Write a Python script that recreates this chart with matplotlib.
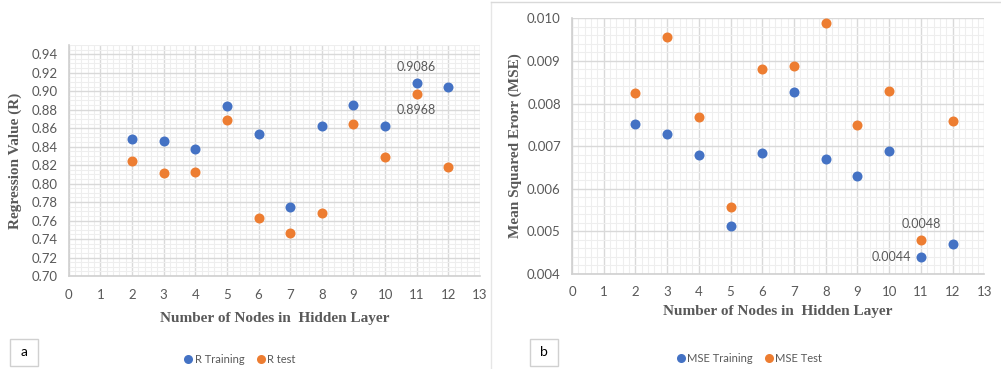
import matplotlib
matplotlib.use("Agg")
import matplotlib.pyplot as plt
from matplotlib.ticker import MultipleLocator, FormatStrFormatter
from matplotlib.patches import Rectangle
from matplotlib.lines import Line2D

# ---- data ----
nodes = [2, 3, 4, 5, 6, 7, 8, 9, 10, 11, 12]
r_training = [0.848, 0.846, 0.837, 0.884, 0.854, 0.775, 0.862, 0.885, 0.862, 0.9086, 0.905]
r_test = [0.825, 0.811, 0.813, 0.869, 0.763, 0.747, 0.768, 0.864, 0.829, 0.8968, 0.818]
mse_training = [0.00752, 0.00729, 0.00679, 0.00512, 0.00683, 0.00827, 0.00670, 0.00629, 0.00689, 0.0044, 0.00470]
mse_test = [0.00825, 0.00956, 0.00769, 0.00558, 0.00880, 0.00889, 0.00990, 0.00749, 0.00830, 0.0048, 0.00760]

BLUE = "#4472C4"
ORANGE = "#ED7D31"
GREY_TXT = "#595959"
TICK_FONT = "Lato"
LABEL_FONT = "Liberation Serif"

fig = plt.figure(figsize=(10.01, 3.69), dpi=100)

def style_axes(ax, xmax, ymin, ymax, ymaj, ymin_step, yfmt):
    ax.set_xlim(0, xmax)
    ax.set_ylim(ymin, ymax)
    ax.xaxis.set_major_locator(MultipleLocator(1))
    ax.xaxis.set_minor_locator(MultipleLocator(0.2))
    ax.yaxis.set_major_locator(MultipleLocator(ymaj))
    ax.yaxis.set_minor_locator(MultipleLocator(ymin_step))
    ax.yaxis.set_major_formatter(FormatStrFormatter(yfmt))
    ax.grid(which="major", color="#D9D9D9", linewidth=1.0, zorder=0)
    ax.grid(which="minor", color="#EEEEEE", linewidth=0.8, zorder=0)
    ax.set_axisbelow(True)
    for s in ["top", "right"]:
        ax.spines[s].set_visible(False)
    for s in ["left", "bottom"]:
        ax.spines[s].set_color("#D0D0D0")
        ax.spines[s].set_linewidth(1.2)
    ax.tick_params(which="both", length=0, colors=GREY_TXT, labelsize=9.5)
    ax.tick_params(axis="x", pad=9)
    ax.tick_params(axis="y", pad=8)
    for lab in ax.get_xticklabels() + ax.get_yticklabels():
        lab.set_fontfamily(TICK_FONT)

# ---- left chart ----
ax1 = fig.add_axes([0.0686, 0.252, 0.4109, 0.626])
ax1.scatter(nodes, r_training, s=52, color=BLUE, zorder=3, linewidths=0)
ax1.scatter(nodes, r_test, s=52, color=ORANGE, zorder=3, linewidths=0)
style_axes(ax1, 13, 0.70, 0.95, 0.02, 0.005, "%.2f")
ax1.set_yticks([0.70 + 0.02 * i for i in range(13)])
for lab in ax1.get_yticklabels():
    lab.set_fontfamily(TICK_FONT)
ax1.set_xlabel("Number of Nodes in  Hidden Layer", fontfamily=LABEL_FONT, fontweight="bold",
               fontsize=11, color=GREY_TXT, labelpad=8)
ax1.set_ylabel("Regression Value (R)", fontfamily=LABEL_FONT, fontweight="bold",
               fontsize=11, color=GREY_TXT, labelpad=7)
ax1.annotate(f"{r_training[9]:.4f}", (nodes[9], r_training[9]), xytext=(0, 12),
             textcoords="offset points", ha="center", va="center", fontsize=9,
             color=GREY_TXT, fontfamily=TICK_FONT)
ax1.annotate(f"{r_test[9]:.4f}", (nodes[9], r_test[9]), xytext=(0, -11.5),
             textcoords="offset points", ha="center", va="center", fontsize=9,
             color=GREY_TXT, fontfamily=TICK_FONT)

# ---- right chart ----
ax2 = fig.add_axes([0.5714, 0.2575, 0.4119, 0.693])
ax2.scatter(nodes, mse_training, s=52, color=BLUE, zorder=3, linewidths=0)
ax2.scatter(nodes, mse_test, s=52, color=ORANGE, zorder=3, linewidths=0)
style_axes(ax2, 13, 0.004, 0.010, 0.001, 0.0002, "%.3f")
ax2.set_xlabel("Number of Nodes in  Hidden Layer", fontfamily=LABEL_FONT, fontweight="bold",
               fontsize=11, color=GREY_TXT, labelpad=5)
ax2.set_ylabel("Mean Squared Erorr (MSE)", fontfamily=LABEL_FONT, fontweight="bold",
               fontsize=11, color=GREY_TXT, labelpad=4)
ax2.annotate(f"{mse_test[9]:.4f}", (nodes[9], mse_test[9]), xytext=(0, 11.5),
             textcoords="offset points", ha="center", va="center", fontsize=9,
             color=GREY_TXT, fontfamily=TICK_FONT)
ax2.annotate(f"{mse_training[9]:.4f}", (nodes[9], mse_training[9]), xytext=(-7, 0),
             textcoords="offset points", ha="right", va="center", fontsize=9,
             color=GREY_TXT, fontfamily=TICK_FONT)

# ---- legends ----
def legend(fig, labels, x, y):
    handles = [Line2D([], [], marker="o", linestyle="none", markersize=6.5, color=c,
                      markeredgewidth=0) for c in (BLUE, ORANGE)]
    fig.legend(handles, labels, loc="center", bbox_to_anchor=(x, y), ncol=2, frameon=False,
               handlelength=0.6, handletextpad=0.25, columnspacing=1.2,
               prop={"family": TICK_FONT, "size": 8}, labelcolor=GREY_TXT)

legend(fig, ["R Training", "R test"], 0.240, 0.027)
legend(fig, ["MSE Training", "MSE Test"], 0.749, 0.029)

# ---- panel letters ----
for (x0, letter) in [(10, "a"), (530, "b")]:
    fig.patches.append(Rectangle((x0 / 1001, 1 - 366 / 369), 28 / 1001, 27 / 369,
                                 transform=fig.transFigure, facecolor="white",
                                 edgecolor="#D0D0D0", linewidth=1.0))
    fig.text((x0 + 14) / 1001, 1 - 352 / 369, letter, ha="center", va="center",
             fontsize=10, fontfamily=TICK_FONT, color="black")

# ---- panel divider ----
fig.add_artist(Line2D([491 / 1001, 491 / 1001], [0, 1 - 2 / 369], transform=fig.transFigure,
                      color="#E6E6E6", linewidth=1.0))
fig.add_artist(Line2D([491 / 1001, 1.0], [1 - 2 / 369, 1 - 2 / 369], transform=fig.transFigure,
                      color="#D9D9D9", linewidth=1.0))

fig.savefig("out.png", dpi=100, facecolor="white")
